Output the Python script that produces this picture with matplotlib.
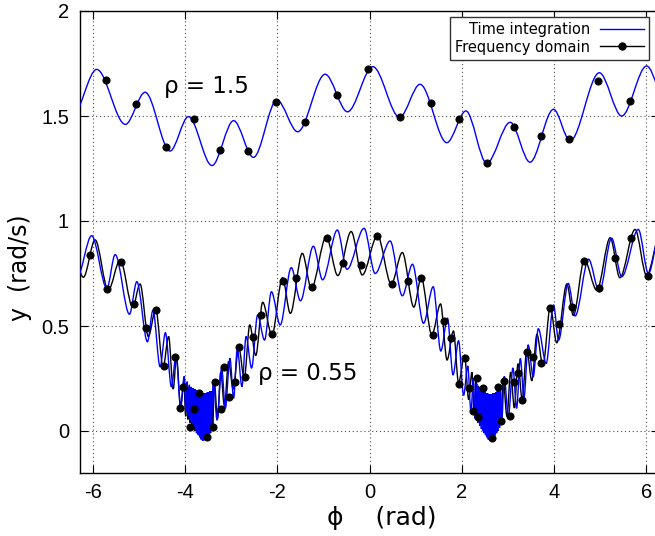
import matplotlib
matplotlib.use("Agg")
import matplotlib.pyplot as plt
from matplotlib.path import Path
from matplotlib.patches import PathPatch
from matplotlib.lines import Line2D

# ---------------- data ----------------
# rho = 1.5 : successive extrema (peaks / troughs) of the time-integration curve
hi_x = [-6.45, -5.92, -5.30, -4.87, -4.33, -3.93, -3.42, -2.95, -2.52, -2.01,
        -1.56, -0.965, -0.48, 0.07, 0.65, 1.095, 1.675, 2.09, 2.54, 3.05,
        3.48, 3.99, 4.35, 4.985, 5.47, 6.01, 6.50]
hi_y = [1.50, 1.722, 1.46, 1.613, 1.333, 1.497, 1.264, 1.478, 1.303, 1.576,
        1.425, 1.699, 1.52, 1.735, 1.494, 1.651, 1.373, 1.524, 1.275, 1.47,
        1.28, 1.532, 1.382, 1.706, 1.50, 1.738, 1.52]
# rho = 1.5 : frequency-domain samples
hi_dot_x = [-5.72, -5.07, -4.41, -3.82, -3.24, -2.63, -2.035, -1.40, -0.71, -0.04,
            0.65, 1.33, 1.94, 2.54, 3.13, 3.71, 4.33, 4.95, 5.65]
hi_dot_y = [1.67, 1.556, 1.354, 1.486, 1.338, 1.333, 1.568, 1.473, 1.60, 1.722,
            1.494, 1.56, 1.487, 1.278, 1.45, 1.405, 1.39, 1.665, 1.57]

# rho = 0.55 : extrema of the time-integration curve (blue)
lo_blue_x = [-6.35, -6.03, -5.70, -5.52, -5.21, -5.05, -4.82, -4.70, -4.545, -4.43,
             -4.30, -4.20, -4.10, -4.02, -3.985, -3.96, -3.935, -3.91, -3.89, -3.87,
             -3.85, -3.83, -3.81, -3.79, -3.775, -3.76, -3.745, -3.73, -3.715, -3.70,
             -3.685, -3.67, -3.655, -3.64, -3.625, -3.61, -3.595, -3.58, -3.565, -3.55,
             -3.535, -3.52, -3.505, -3.49, -3.475, -3.46, -3.44, -3.39, -3.31, -3.21,
             -3.13, -3.03, -2.95, -2.87, -2.77, -2.68, -2.56, -2.43, -2.28, -2.13,
             -1.94, -1.70, -1.50, -1.22, -1.02, -0.70, -0.49, -0.12, 0.12, 0.445,
             0.71, 0.93, 1.17, 1.38, 1.545, 1.69, 1.81, 1.93, 2.04, 2.13,
             2.20, 2.25, 2.29, 2.325, 2.35, 2.37, 2.39, 2.41, 2.425, 2.44,
             2.455, 2.47, 2.485, 2.50, 2.515, 2.53, 2.545, 2.56, 2.575, 2.59,
             2.605, 2.62, 2.635, 2.65, 2.665, 2.68, 2.695, 2.71, 2.725, 2.74,
             2.755, 2.77, 2.785, 2.80, 2.82, 2.84, 2.865, 2.92, 3.01, 3.11,
             3.19, 3.27, 3.35, 3.44, 3.55, 3.66, 3.83, 3.99, 4.10, 4.31,
             4.46, 4.75, 4.985, 5.25, 5.47, 5.83, 6.05, 6.30]
lo_blue_y = [0.73, 0.93, 0.68, 0.84, 0.556, 0.711, 0.425, 0.575, 0.306, 0.468,
             0.21, 0.36, 0.124, 0.26, 0.09, 0.235, 0.07, 0.22, 0.05, 0.21,
             0.035, 0.205, 0.02, 0.20, 0.005, 0.195, -0.01, 0.19, -0.02, 0.185,
             -0.03, 0.185, -0.04, 0.18, -0.045, 0.18, -0.045, 0.18, -0.04, 0.18,
             -0.035, 0.185, -0.025, 0.185, -0.015, 0.19, 0.0, 0.243, 0.052, 0.30,
             0.108, 0.346, 0.156, 0.394, 0.211, 0.45, 0.30, 0.552, 0.433, 0.663,
             0.505, 0.778, 0.62, 0.88, 0.72, 0.957, 0.77, 0.965, 0.75, 0.905,
             0.644, 0.794, 0.513, 0.687, 0.381, 0.537, 0.267, 0.43, 0.17, 0.31,
             0.09, 0.25, 0.06, 0.225, 0.04, 0.21, 0.025, 0.20, 0.01, 0.195,
             0.0, 0.19, -0.01, 0.185, -0.02, 0.18, -0.03, 0.18, -0.04, 0.175,
             -0.045, 0.175, -0.045, 0.175, -0.04, 0.18, -0.03, 0.18, -0.02, 0.185,
             -0.01, 0.19, 0.0, 0.20, 0.015, 0.21, 0.03, 0.26, 0.068, 0.30,
             0.108, 0.345, 0.16, 0.41, 0.259, 0.487, 0.322, 0.60, 0.433, 0.703,
             0.548, 0.818, 0.663, 0.918, 0.735, 0.96, 0.75, 0.95]

# rho = 0.55 : extrema of the frequency-domain curve (black)
lo_black_x = [-6.50, -6.21, -5.955, -5.67, -5.41, -5.14, -4.98, -4.80, -4.64, -4.48,
              -4.36, -4.26, -4.19, -4.10, -4.03, -3.99, -3.965, -3.94, -3.915, -3.895,
              -3.875, -3.855, -3.835, -3.815, -3.80, -3.785, -3.77, -3.755, -3.74, -3.725,
              -3.71, -3.695, -3.68, -3.665, -3.65, -3.635, -3.62, -3.605, -3.59, -3.575,
              -3.56, -3.545, -3.53, -3.515, -3.50, -3.485, -3.47, -3.45, -3.43, -3.405,
              -3.37, -3.30, -3.23, -3.15, -3.06, -2.96, -2.84, -2.72, -2.60, -2.47,
              -2.32, -2.12, -1.89, -1.72, -1.46, -1.265, -0.94, -0.69, -0.40, -0.16,
              0.17, 0.47, 0.71, 0.96, 1.12, 1.35, 1.54, 1.68, 1.82, 1.93,
              2.06, 2.15, 2.22, 2.27, 2.305, 2.335, 2.36, 2.38, 2.40, 2.415,
              2.43, 2.445, 2.46, 2.475, 2.49, 2.505, 2.52, 2.535, 2.55, 2.565,
              2.58, 2.595, 2.61, 2.625, 2.64, 2.655, 2.67, 2.685, 2.70, 2.715,
              2.73, 2.745, 2.76, 2.775, 2.79, 2.81, 2.83, 2.855, 2.90, 2.98,
              3.06, 3.14, 3.22, 3.31, 3.41, 3.52, 3.63, 3.76, 3.92, 4.06,
              4.28, 4.42, 4.66, 4.93, 5.22, 5.43, 5.76, 6.01, 6.30]
lo_black_y = [0.92, 0.732, 0.91, 0.671, 0.815, 0.59, 0.70, 0.45, 0.58, 0.305,
              0.45, 0.20, 0.355, 0.105, 0.235, 0.07, 0.22, 0.055, 0.21, 0.04,
              0.20, 0.025, 0.195, 0.01, 0.19, 0.0, 0.185, -0.01, 0.18, -0.015,
              0.18, -0.02, 0.175, -0.025, 0.175, -0.03, 0.17, -0.03, 0.17, -0.03,
              0.17, -0.03, 0.175, -0.025, 0.175, -0.02, 0.18, -0.01, 0.19, 0.01,
              0.235, 0.06, 0.28, 0.12, 0.33, 0.20, 0.40, 0.25, 0.505, 0.36,
              0.613, 0.457, 0.73, 0.56, 0.846, 0.68, 0.925, 0.74, 0.95, 0.743,
              0.93, 0.70, 0.85, 0.59, 0.73, 0.457, 0.605, 0.338, 0.476, 0.23,
              0.36, 0.15, 0.28, 0.08, 0.24, 0.055, 0.215, 0.04, 0.20, 0.025,
              0.195, 0.015, 0.19, 0.0, 0.185, -0.01, 0.18, -0.02, 0.18, -0.025,
              0.175, -0.03, 0.175, -0.035, 0.175, -0.035, 0.175, -0.03, 0.18, -0.02,
              0.18, -0.01, 0.185, 0.0, 0.195, 0.015, 0.21, 0.04, 0.24, 0.07,
              0.28, 0.11, 0.32, 0.15, 0.385, 0.24, 0.46, 0.31, 0.59, 0.42,
              0.70, 0.55, 0.815, 0.67, 0.92, 0.73, 0.96, 0.74, 0.93]

# rho = 0.55 : frequency-domain samples
lo_dot_x = [-6.06, -5.70, -5.40, -5.12, -4.855, -4.64, -4.47, -4.22, -4.11, -4.05,
            -3.89, -3.82, -3.71, -3.53, -3.39, -3.36, -3.22, -3.16, -3.06, -2.93,
            -2.84, -2.70, -2.53, -2.36, -2.12, -1.87, -1.60, -1.26, -0.93, -0.58,
            -0.19, 0.17, 0.495, 0.84, 1.12, 1.37, 1.62, 1.77, 1.94, 2.06,
            2.16, 2.25, 2.33, 2.35, 2.47, 2.65, 2.79, 2.85, 2.92, 3.04,
            3.13, 3.21, 3.31, 3.42, 3.55, 3.72, 3.92, 4.11, 4.40, 4.65,
            4.98, 5.33, 5.67, 6.03]
lo_dot_y = [0.84, 0.676, 0.806, 0.603, 0.489, 0.576, 0.311, 0.351, 0.108, 0.208,
            0.02, 0.103, 0.182, -0.03, 0.02, 0.235, 0.103, 0.303, 0.16, 0.235,
            0.398, 0.259, 0.449, 0.552, 0.46, 0.716, 0.73, 0.684, 0.92, 0.80,
            0.79, 0.929, 0.70, 0.716, 0.73, 0.457, 0.525, 0.441, 0.223, 0.35,
            0.205, 0.097, 0.251, 0.068, 0.203, -0.035, 0.211, 0.048, 0.238, 0.071,
            0.234, 0.275, 0.148, 0.377, 0.353, 0.322, 0.584, 0.508, 0.589, 0.81,
            0.682, 0.822, 0.92, 0.74]

x_ticks = [-6, -4, -2, 0, 2, 4, 6]
x_tick_labels = ["-6", "-4", "-2", "0", "2", "4", "6"]
y_ticks = [0, 0.5, 1, 1.5, 2]
y_tick_labels = ["0", "0.5", "1", "1.5", "2"]
x_limits = (-6.2832, 6.2832)
y_limits = (-0.2, 2.0)

series_labels = ["Time integration", "Frequency domain"]
rho_labels = ["\u03c1 = 1.5", "\u03c1 = 0.55"]

# ---------------- drawing ----------------
plt.rcParams["font.family"] = ["DejaVu Sans"]

W, H = 655, 536
fig = plt.figure(figsize=(W / 100, H / 100), dpi=100)
ax_left, ax_right, ax_top, ax_bottom = 80, 659.2, 11, 473
ax = fig.add_axes([ax_left / W, (H - ax_bottom) / H,
                   (ax_right - ax_left) / W, (ax_bottom - ax_top) / H])


def extrema_path(xs, ys):
    """Smooth path through successive extrema (horizontal tangent at each)."""
    verts = [(xs[0], ys[0])]
    codes = [Path.MOVETO]
    for i in range(len(xs) - 1):
        dx = xs[i + 1] - xs[i]
        verts += [(xs[i] + dx / 3.0, ys[i]),
                  (xs[i + 1] - dx / 3.0, ys[i + 1]),
                  (xs[i + 1], ys[i + 1])]
        codes += [Path.CURVE4] * 3
    return Path(verts, codes)


blue = "#0000ff"
lw = 1.0
ax.add_patch(PathPatch(extrema_path(lo_black_x, lo_black_y), facecolor="none",
                       edgecolor="black", lw=lw, zorder=2))
ax.add_patch(PathPatch(extrema_path(lo_blue_x, lo_blue_y), facecolor="none",
                       edgecolor=blue, lw=lw, zorder=3))
ax.add_patch(PathPatch(extrema_path(hi_x, hi_y), facecolor="none",
                       edgecolor=blue, lw=lw, zorder=3))

ax.plot(hi_dot_x, hi_dot_y, "o", color="black", ms=5.2, mew=0.6, zorder=4)
ax.plot(lo_dot_x, lo_dot_y, "o", color="black", ms=5.2, mew=0.6, zorder=4)

ax.set_xlim(*x_limits)
ax.set_ylim(*y_limits)
ax.set_xticks(x_ticks)
ax.set_xticklabels(x_tick_labels)
ax.set_yticks(y_ticks)
ax.set_yticklabels(y_tick_labels)
ax.tick_params(direction="in", length=6, width=0.8, top=True, right=True,
               labelsize=14.5, colors="black")
ax.tick_params(axis="x", pad=7)
ax.tick_params(axis="y", pad=8)
for lab in ax.get_xticklabels() + ax.get_yticklabels():
    lab.set_family("Liberation Sans")
for s in ax.spines.values():
    s.set_linewidth(1.0)
    s.set_color("black")

ax.grid(True, color="0.3", lw=0.8, linestyle=(0, (1, 2.5)))
ax.set_axisbelow(True)

ax.text(-4.47, 1.608, rho_labels[0], fontsize=16.5, ha="left", va="baseline")
ax.text(-2.42, 0.243, rho_labels[1], fontsize=16.5, ha="left", va="baseline")

ax.set_ylabel("y  (rad/s)", fontsize=17, va="center")
ax.yaxis.set_label_coords(-0.1036, 0.444)
ax.set_xlabel("\u03d5    (rad)", fontsize=18, va="center")
ax.xaxis.set_label_coords(0.521, -0.097)

handles = [Line2D([], [], color=blue, lw=lw),
           Line2D([], [], color="black", lw=lw, marker="o", ms=5)]
leg = ax.legend(handles, series_labels, loc="upper right",
                bbox_to_anchor=(649.3 / W, 1 - 17.3 / H),
                bbox_transform=fig.transFigure, borderaxespad=0,
                markerfirst=False, numpoints=1, fontsize=10.5,
                handlelength=3.0, handletextpad=0.7, labelspacing=0.15,
                borderpad=0.35, fancybox=False, framealpha=1,
                edgecolor="0.2")
leg.get_frame().set_linewidth(1.0)

fig.savefig("out.png", dpi=100)
